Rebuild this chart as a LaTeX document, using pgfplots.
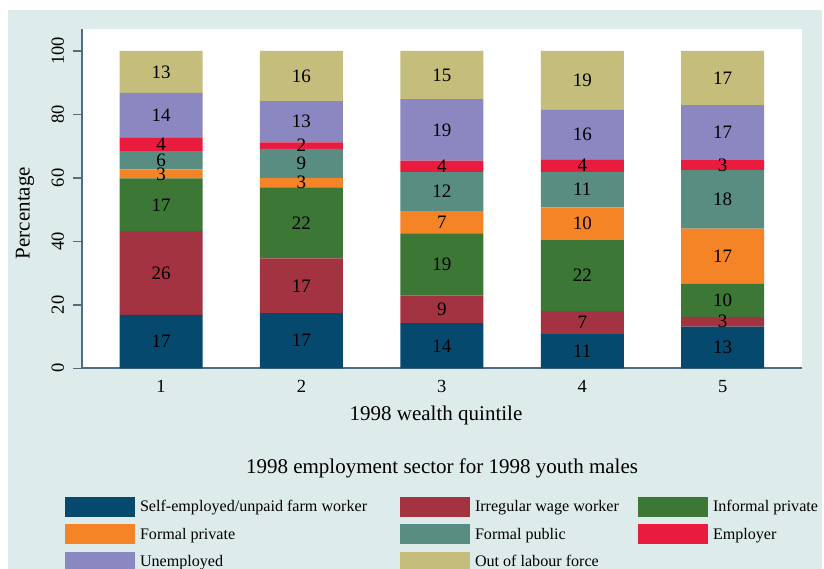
\documentclass[border=0pt]{standalone}
\usepackage{pgfplots}
\pgfplotsset{compat=1.18}
\usepackage{pgfplotstable}
\usepackage{fontspec}
\setmainfont{Liberation Serif}

\definecolor{cSelf}{RGB}{6,73,111}
\definecolor{cIrr}{RGB}{163,51,64}
\definecolor{cInf}{RGB}{61,119,54}
\definecolor{cFpr}{RGB}{245,132,38}
\definecolor{cFpu}{RGB}{90,141,130}
\definecolor{cEmp}{RGB}{233,28,64}
\definecolor{cUne}{RGB}{139,135,193}
\definecolor{cOut}{RGB}{196,189,123}
\definecolor{panel}{RGB}{222,235,235}
\definecolor{axcol}{RGB}{80,110,125}

\newcommand\tickfont{\fontsize{18.5}{20}\selectfont}
\newcommand\labfont{\fontsize{19}{20}\selectfont}
\newcommand\axlabfont{\fontsize{21}{24}\selectfont}
\newcommand\legfont{\fontsize{16.1}{18}\selectfont}

% v = segment share, lab = printed label
\pgfplotstableread{
x v lab
1 16.8 17
2 17.4 17
3 14.2 14
4 10.8 11
5 13.1 13
}\tSelf
\pgfplotstableread{
x v lab
1 26.4 26
2 17.2 17
3 8.7 9
4 7.2 7
5 3.1 3
}\tIrr
\pgfplotstableread{
x v lab
1 16.6 17
2 22.4 22
3 19.6 19
4 22.4 22
5 10.4 10
}\tInf
\pgfplotstableread{
x v lab
1 2.9 3
2 3.0 3
3 7.0 7
4 10.3 10
5 17.4 17
}\tFpr
\pgfplotstableread{
x v lab
1 5.7 6
2 9.1 9
3 12.3 12
4 11.2 11
5 18.4 18
}\tFpu
\pgfplotstableread{
x v lab
1 4.2 4
2 2.1 2
3 3.6 4
4 3.9 4
5 3.2 3
}\tEmp
\pgfplotstableread{
x v lab
1 14.2 14
2 13.0 13
3 19.4 19
4 15.6 16
5 17.3 17
}\tUne
\pgfplotstableread{
x v lab
1 13.2 13
2 15.8 16
3 15.2 15
4 18.6 19
5 17.1 17
}\tOut

\pgfplotsset{
  geom/.style={
    scale only axis, width=720pt, height=339pt,
    at={(82pt,200.7pt)}, anchor=south west,
    xmin=0.437, xmax=5.565, ymin=0, ymax=106.8,
    enlargelimits=false,
    ybar stacked, bar width=83pt,
  },
  seg/.style={fill=#1, draw=none,
    legend image code/.code={\fill[fill=#1] (0pt,-10pt) rectangle (70pt,10pt);}},
  lab/.style={draw=none, fill=none},
}

\begin{document}
\begin{tikzpicture}
\useasboundingbox (0,0) rectangle (824pt,569pt);
\fill[white] (0,0) rectangle (824pt,569pt);
\fill[panel] (8pt,0) rectangle (822pt,559pt);

\begin{axis}[geom,
  axis background/.style={fill=white},
  axis x line*=bottom, axis y line*=left,
  axis line style={axcol, line width=1.6pt, -},
  xtick={1,2,3,4,5},
  ytick={0,20,40,60,80,100},
  xtick style={draw=none},
  ytick style={axcol, line width=1.4pt},
  tick align=outside, major tick length=9pt,
  /pgf/number format/assume math mode=true,
  tick label style={font=\tickfont, text=black},
  yticklabel style={rotate=90, anchor=south, inner sep=0pt, yshift=8.7pt},
  xticklabel style={anchor=north, inner sep=0pt, yshift=-3pt},
  xlabel={1998 wealth quintile},
  ylabel={Percentage},
  label style={font=\axlabfont},
  xlabel style={at={(axis description cs:0.4917,-0.1378)}, anchor=center},
  ylabel style={at={(axis description cs:-0.0792,0.458)}, anchor=center},
  legend columns=3,
  legend cell align=left,
  legend style={at={(-0.0236,-0.3796)}, anchor=north west, draw=none, fill=none,
    inner sep=0pt, outer sep=0pt, font=\legfont, row sep=7.3pt, column sep=0pt,
    nodes={inner sep=0pt}},
]
\addplot[seg=cSelf] table[x=x,y=v] {\tSelf};
\addlegendentry{\makebox[265pt][l]{\hspace{5pt}Self-employed/unpaid farm worker}}
\addplot[seg=cIrr] table[x=x,y=v] {\tIrr};
\addlegendentry{\makebox[168pt][l]{\hspace{5pt}Irregular wage worker}}
\addplot[seg=cInf] table[x=x,y=v] {\tInf};
\addlegendentry{\hspace{5pt}Informal private}
\addplot[seg=cFpr] table[x=x,y=v] {\tFpr};
\addlegendentry{\makebox[265pt][l]{\hspace{5pt}Formal private}}
\addplot[seg=cFpu] table[x=x,y=v] {\tFpu};
\addlegendentry{\makebox[168pt][l]{\hspace{5pt}Formal public}}
\addplot[seg=cEmp] table[x=x,y=v] {\tEmp};
\addlegendentry{\hspace{5pt}Employer}
\addplot[seg=cUne] table[x=x,y=v] {\tUne};
\addlegendentry{\makebox[265pt][l]{\hspace{5pt}Unemployed}}
\addplot[seg=cOut] table[x=x,y=v] {\tOut};
\addlegendentry{\makebox[168pt][l]{\hspace{5pt}Out of labour force}}
\end{axis}

\begin{axis}[geom, hide axis,
  nodes near coords,
  point meta=explicit symbolic,
  every node near coord/.append style={anchor=center,
    font=\labfont, text=black, inner sep=0pt},
]
\addplot[lab] table[x=x,y=v,meta=lab] {\tSelf};
\addplot[lab] table[x=x,y=v,meta=lab] {\tIrr};
\addplot[lab] table[x=x,y=v,meta=lab] {\tInf};
\addplot[lab] table[x=x,y=v,meta=lab] {\tFpr};
\addplot[lab] table[x=x,y=v,meta=lab] {\tFpu};
\addplot[lab] table[x=x,y=v,meta=lab] {\tEmp};
\addplot[lab] table[x=x,y=v,meta=lab] {\tUne};
\addplot[lab] table[x=x,y=v,meta=lab] {\tOut};
\end{axis}

\node[font=\axlabfont, anchor=center] at (442pt,101pt) {1998 employment sector for 1998 youth males};
\end{tikzpicture}
\end{document}
